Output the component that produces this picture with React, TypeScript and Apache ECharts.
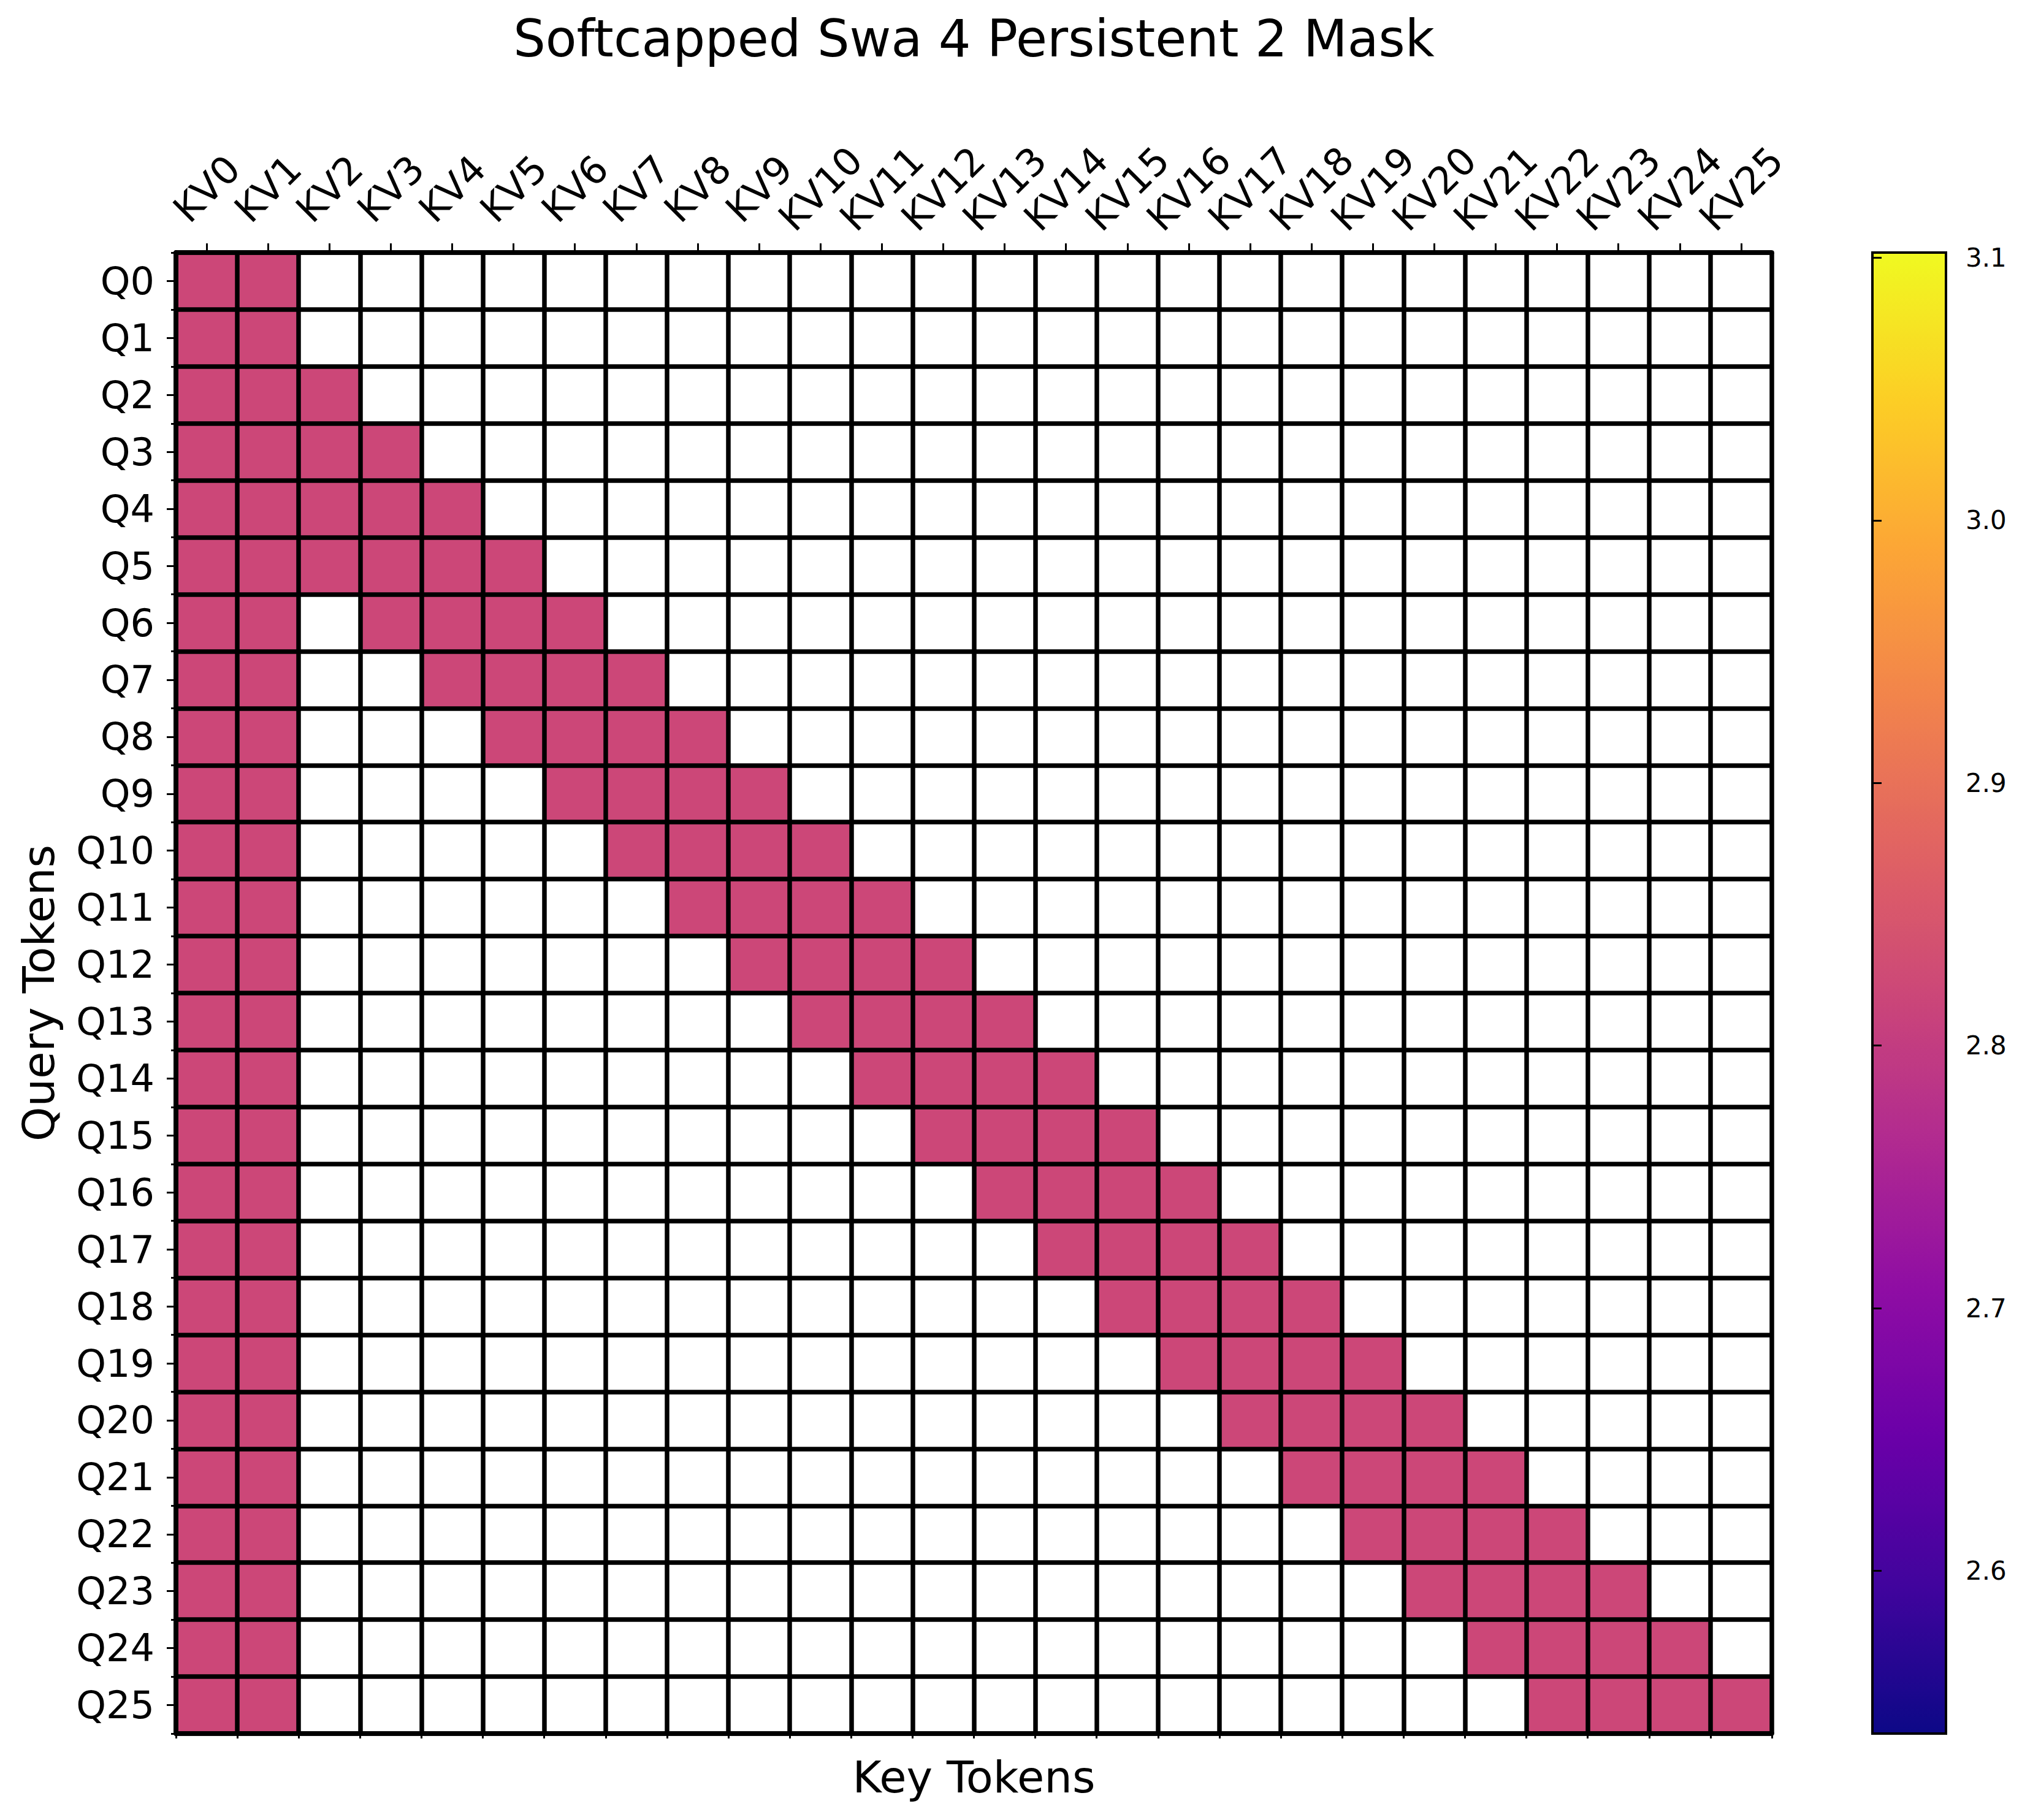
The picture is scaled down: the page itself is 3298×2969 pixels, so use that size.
import React, { useEffect, useRef } from "react";
import * as echarts from "echarts";

const keyLabels = [
  "KV0", "KV1", "KV2", "KV3", "KV4", "KV5", "KV6", "KV7", "KV8", "KV9",
  "KV10", "KV11", "KV12", "KV13", "KV14", "KV15", "KV16", "KV17", "KV18", "KV19",
  "KV20", "KV21", "KV22", "KV23", "KV24", "KV25",
];
const queryLabels = [
  "Q0", "Q1", "Q2", "Q3", "Q4", "Q5", "Q6", "Q7", "Q8", "Q9",
  "Q10", "Q11", "Q12", "Q13", "Q14", "Q15", "Q16", "Q17", "Q18", "Q19",
  "Q20", "Q21", "Q22", "Q23", "Q24", "Q25",
];
// 1 = attended (coloured), 0 = masked (white); one string per query row, one char per key column
const maskRows = [
  "11000000000000000000000000",
  "11000000000000000000000000",
  "11100000000000000000000000",
  "11110000000000000000000000",
  "11111000000000000000000000",
  "11111100000000000000000000",
  "11011110000000000000000000",
  "11001111000000000000000000",
  "11000111100000000000000000",
  "11000011110000000000000000",
  "11000001111000000000000000",
  "11000000111100000000000000",
  "11000000011110000000000000",
  "11000000001111000000000000",
  "11000000000111100000000000",
  "11000000000011110000000000",
  "11000000000001111000000000",
  "11000000000000111100000000",
  "11000000000000011110000000",
  "11000000000000001111000000",
  "11000000000000000111100000",
  "11000000000000000011110000",
  "11000000000000000001111000",
  "11000000000000000000111100",
  "11000000000000000000011110",
  "11000000000000000000001111",
];
const maskValue = 2.82;
const colorMin = 2.538;
const colorMax = 3.102;
const colorTicks = [2.6, 2.7, 2.8, 2.9, 3.0, 3.1];
const plasma = [
  "#0d0887", "#41049d", "#6a00a8", "#8f0da4", "#b12a90", "#cc4778",
  "#e16462", "#f2844b", "#fca636", "#fcce25", "#f0f921",
];

const FONT = "DejaVu Sans";

export default function App() {
  const ref = useRef<HTMLDivElement>(null);
  useEffect(() => {
    document.body.style.margin = "0";
    const chart = echarts.init(ref.current!, null, { renderer: "svg" });
    const data: [number, number, number][] = [];
    maskRows.forEach((row, y) => {
      row.split("").forEach((c, x) => {
        if (c === "1") data.push([x, y, maskValue]);
      });
    });
    const G = { left: 287, top: 412, width: 2603, height: 2416 };
    const CB = { left: 3054, top: 412, width: 120, height: 2416 };
    const black = "#000000";
    const gridLine = 7.5;

    chart.setOption({
      animation: false,
      backgroundColor: "#ffffff",
      textStyle: { fontFamily: FONT },
      title: {
        text: "Softcapped Swa 4 Persistent 2 Mask",
        left: G.left + G.width / 2,
        top: 22,
        padding: 0,
        textAlign: "center",
        textStyle: { fontFamily: FONT, fontSize: 83, fontWeight: "normal", color: black },
      },
      grid: [
        { ...G, containLabel: false },
        { ...CB, show: true, z: 10, borderColor: black, borderWidth: 4, backgroundColor: "transparent" },
      ],
      xAxis: [
        {
          type: "category",
          data: keyLabels,
          gridIndex: 0,
          position: "top",
          z: 6,
          axisLine: { show: true, onZero: false, lineStyle: { color: black, width: gridLine } },
          axisTick: { show: true, alignWithLabel: true, interval: 0, length: 15, lineStyle: { color: black, width: 3 } },
          axisLabel: {
            show: true, rotate: -45, align: "center", verticalAlign: "middle", margin: 104,
            fontSize: 62, color: black, fontFamily: FONT, interval: 0,
          },
          splitLine: { show: false },
        },
        {
          type: "category",
          data: keyLabels,
          gridIndex: 0,
          position: "bottom",
          z: 6,
          name: "Key Tokens",
          nameLocation: "middle",
          nameGap: 35,
          nameTextStyle: { fontFamily: FONT, fontSize: 72, color: black },
          axisLine: { show: true, onZero: false, lineStyle: { color: black, width: gridLine } },
          axisTick: { show: true, alignWithLabel: false, interval: 0, length: 8, lineStyle: { color: black, width: 3 } },
          axisLabel: { show: false },
          splitLine: { show: true, interval: 0, lineStyle: { color: black, width: gridLine } },
        },
        { type: "value", gridIndex: 1, show: false, min: 0, max: 1 },
      ],
      yAxis: [
        {
          type: "category",
          data: queryLabels,
          inverse: true,
          gridIndex: 0,
          position: "left",
          z: 6,
          name: "Query Tokens",
          nameLocation: "middle",
          nameGap: 188,
          nameTextStyle: { fontFamily: FONT, fontSize: 72, color: black },
          axisLine: { show: true, onZero: false, lineStyle: { color: black, width: gridLine } },
          axisTick: { show: true, alignWithLabel: true, interval: 0, length: 15, lineStyle: { color: black, width: 3 } },
          axisLabel: { show: true, margin: 35, fontSize: 62, color: black, fontFamily: FONT, interval: 0 },
          splitLine: { show: false },
        },
        {
          type: "category",
          data: queryLabels,
          inverse: true,
          gridIndex: 0,
          position: "left",
          z: 6,
          axisLine: { show: true, onZero: false, lineStyle: { color: black, width: gridLine } },
          axisTick: { show: true, alignWithLabel: false, interval: 0, length: 8, lineStyle: { color: black, width: 3 } },
          axisLabel: { show: false },
          splitLine: { show: true, interval: 0, lineStyle: { color: black, width: gridLine } },
        },
        {
          type: "value",
          gridIndex: 1,
          position: "right",
          min: colorMin,
          max: colorMax,
          z: 11,
          axisLine: { show: false },
          axisTick: { show: true, customValues: colorTicks, length: 15, lineStyle: { color: black, width: 3 } },
          axisLabel: {
            show: true, customValues: colorTicks, margin: 32, fontSize: 42, color: black, fontFamily: FONT,
            formatter: (v: number) => v.toFixed(1),
          },
          splitLine: { show: false },
        },
      ],
      visualMap: {
        type: "continuous",
        seriesIndex: 0,
        dimension: 2,
        min: colorMin,
        max: colorMax,
        calculable: false,
        show: true,
        orient: "vertical",
        left: CB.left,
        top: CB.top,
        itemWidth: CB.width,
        itemHeight: CB.height,
        padding: 0,
        inRange: { color: plasma },
      },
      series: [
        {
          type: "heatmap",
          xAxisIndex: 0,
          yAxisIndex: 0,
          data,
          itemStyle: { borderWidth: 0 },
          emphasis: { disabled: true },
          progressive: 0,
        },
      ],
    });
    return () => chart.dispose();
  }, []);
  return (
    <div
      ref={ref}
      style={{ position: "fixed", left: 0, top: 0, width: 3298, height: 2969 }}
    />
  );
}
